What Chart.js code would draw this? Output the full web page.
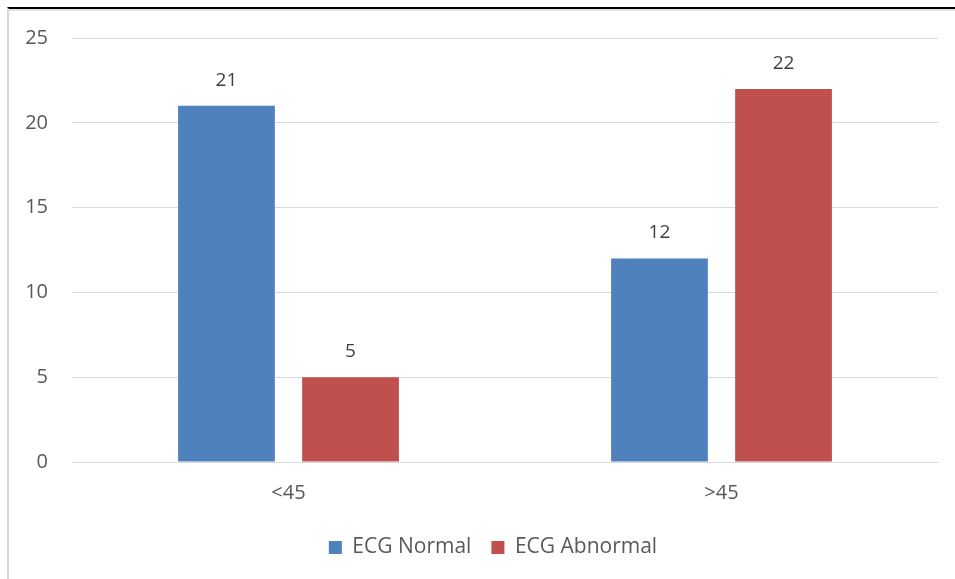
<!DOCTYPE html>
<html>
<head>
<meta charset="utf-8">
<script src="https://cdn.jsdelivr.net/npm/chart.js@4"></script>
<style>
    html, body { margin: 0; padding: 0; background: #fff; }
    #wrap { position: relative; width: 955px; height: 579px; overflow: hidden; }
    #frame {
        position: absolute; left: 7px; top: 7px; right: 0; bottom: 0;
        border-top: 2px solid #000; border-left: 2px solid #d9d9d9;
        box-shadow: inset 0 2px 0 #e3e3e3;
    }
    #chartBox { position: absolute; left: 0; top: 0; width: 955px; height: 579px; }
</style>
</head>
<body>
<div id="wrap">
    <div id="frame"></div>
    <div id="chartBox"><canvas id="myBarChart"></canvas></div>
</div>
<script>
const ageGroups = ['<45', '>45'];
const ecgNormal = [21, 12];
const ecgAbnormal = [5, 22];
const yTicks = [0, 5, 10, 15, 20, 25];

const FONT = '"Open Sans", Lato, sans-serif';

// Value labels above each bar
const barValueLabels = {
    id: 'barValueLabels',
    afterDatasetsDraw(chart) {
        const ctx = chart.ctx;
        ctx.save();
        ctx.font = '19px ' + FONT;
        ctx.fillStyle = '#404040';
        ctx.textAlign = 'center';
        ctx.textBaseline = 'alphabetic';
        chart.data.datasets.forEach((ds, i) => {
            chart.getDatasetMeta(i).data.forEach((bar, j) => {
                ctx.fillText(String(ds.data[j]), bar.x, bar.y - 20);
            });
        });
        ctx.restore();
    }
};

// Centre the legend a little to the right, like the original
const legendShift = {
    id: 'legendShift',
    afterLayout(chart) {
        if (chart.legend) {
            chart.legend.left += 24;
            chart.legend.right += 24;
        }
    }
};

const ctx = document.getElementById('myBarChart').getContext('2d');
new Chart(ctx, {
    type: 'bar',
    data: {
        labels: ageGroups,
        datasets: [{
            label: 'ECG Normal',
            data: ecgNormal,
            backgroundColor: '#4F81BD'
        }, {
            label: 'ECG Abnormal',
            data: ecgAbnormal,
            backgroundColor: '#C0504D'
        }]
    },
    options: {
        responsive: true,
        maintainAspectRatio: false,
        animation: false,
        datasets: {
            bar: { categoryPercentage: 0.573, barPercentage: 0.78 }
        },
        layout: { padding: { top: 38, right: 17, left: 0, bottom: 11 } },
        plugins: {
            legend: {
                position: 'bottom',
                labels: {
                    boxWidth: 13,
                    boxHeight: 13,
                    padding: 20,
                    color: '#595959',
                    font: { family: FONT, size: 21 }
                }
            },
            tooltip: { enabled: false }
        },
        scales: {
            x: {
                grid: { display: false, drawTicks: false },
                border: { display: true, color: '#d9d9d9', width: 1 },
                ticks: { color: '#595959', padding: 19, font: { family: FONT, size: 20 } },
                afterFit: (scale) => { scale.height = 55; }
            },
            y: {
                min: 0,
                max: 25,
                afterBuildTicks: (scale) => { scale.ticks = yTicks.map(v => ({ value: v })); },
                grid: { color: '#d9d9d9', lineWidth: 1, drawTicks: false },
                border: { display: false },
                ticks: { color: '#595959', padding: 24, font: { family: FONT, size: 20 } },
                afterFit: (scale) => { scale.width = 72; }
            }
        }
    },
    plugins: [barValueLabels, legendShift]
});
</script>
</body>
</html>
